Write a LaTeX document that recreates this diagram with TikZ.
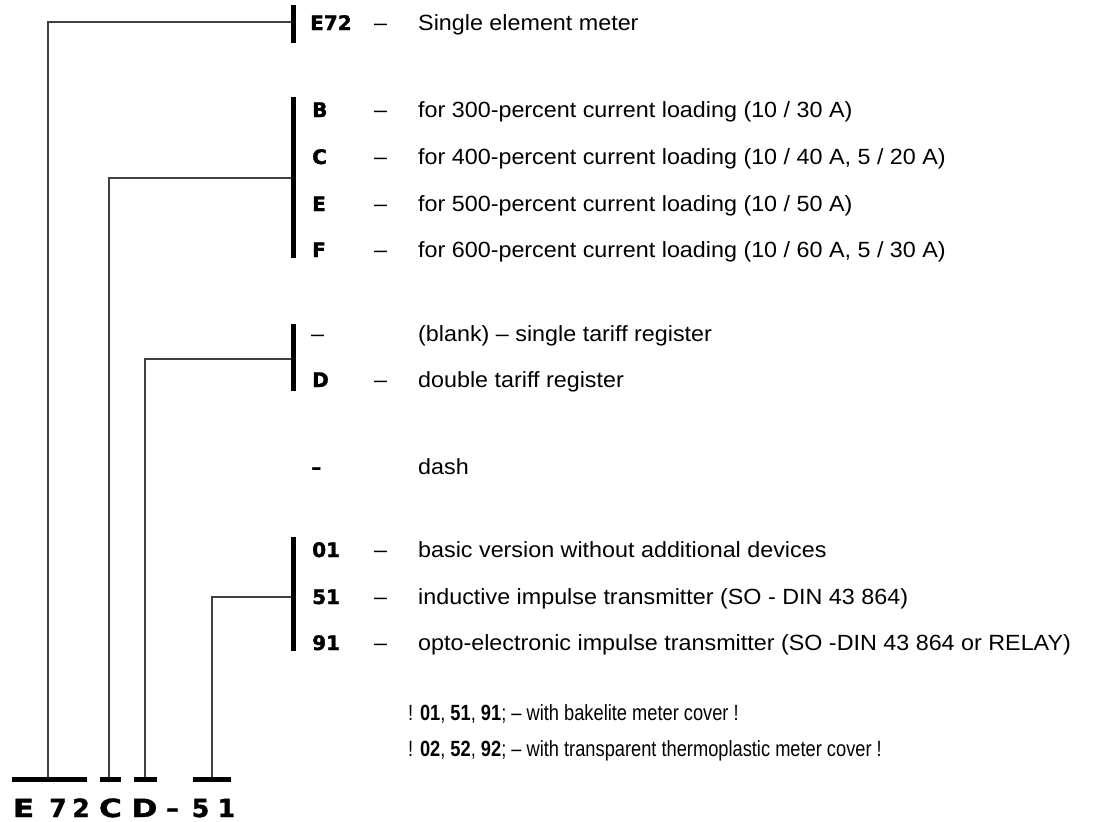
\documentclass[tikz,border=0pt]{standalone}
\usepackage{fontspec}
\setmainfont{Liberation Sans}[FakeStretch=1.06]
\newfontfamily\notefont{Liberation Sans}[FakeStretch=0.83]
\newfontfamily\blk{DejaVu Sans Bold}[FakeBold=1.5]
\newfontfamily\bigblk{DejaVu Sans Bold}[FakeBold=1.5,FakeStretch=1.25]
\newfontfamily\bigdig{DejaVu Sans Bold}[FakeBold=1.5]
\begin{document}
\begin{tikzpicture}[x=1pt,y=-1pt,
  bar/.style={line width=5pt},
  conn/.style={line width=1.1pt, draw=black!75},
  txt/.style={anchor=base west, inner sep=0, font=\fontsize{22}{26}\selectfont},
  note/.style={anchor=base west, inner sep=0, font=\notefont\fontsize{22}{26}\selectfont},
  code/.style={anchor=base west, inner sep=0, font=\blk\fontsize{20}{24}\selectfont},
  big/.style={anchor=base, inner sep=0, font=\bigblk\fontsize{25}{28}\selectfont},
  bigd/.style={anchor=base, inner sep=0, font=\bigdig\fontsize{25}{28}\selectfont}]
\useasboundingbox (0,0) rectangle (1101,822);
% group bars
\draw[bar] (293,5) -- (293,43);
\draw[bar] (293,97) -- (293,258);
\draw[bar] (293,324) -- (293,391);
\draw[bar] (293,537) -- (293,651);
\coordinate (g1) at (291,22);
\coordinate (g2) at (291,178);
\coordinate (g3) at (291,359);
\coordinate (g4) at (291,597);
% bottom bars
\draw[bar] (12,779) -- (87,779);
\draw[bar] (100,779) -- (121,779);
\draw[bar] (134,779) -- (157,779);
\draw[bar] (193,779) -- (231,779);
\coordinate (b1) at (48,777);
\coordinate (b2) at (109,777);
\coordinate (b3) at (145,777);
\coordinate (b4) at (212,777);
% connectors
\draw[conn] (b1) |- (g1);
\draw[conn] (b2) |- (g2);
\draw[conn] (b3) |- (g3);
\draw[conn] (b4) |- (g4);
% rows
\node[code] (cE72) at (310,30) {E72};
\node[txt] (dE72) at (374,30) {–};
\node[txt] (tE72) at (418,30) {Single element meter};

\node[code] (cB) at (312,117) {B};
\node[txt] (dB) at (374,117) {–};
\node[txt] (tB) at (418,117) {for 300-percent current loading (10 / 30 A)};
\node[code] (cC) at (312,164) {C};
\node[txt] (dC) at (374,164) {–};
\node[txt] (tC) at (418,164) {for 400-percent current loading (10 / 40 A, 5 / 20 A)};
\node[code] (cE) at (312,211) {E};
\node[txt] (dE) at (374,211) {–};
\node[txt] (tE) at (418,211) {for 500-percent current loading (10 / 50 A)};
\node[code] (cF) at (312,257) {F};
\node[txt] (dF) at (374,257) {–};
\node[txt] (tF) at (418,257) {for 600-percent current loading (10 / 60 A, 5 / 30 A)};

\node[txt] (cBl) at (311,341) {–};
\node[txt] (tBl) at (418,341) {(blank) – single tariff register};
\node[code] (cD) at (312,387) {D};
\node[txt] (dD) at (374,387) {–};
\node[txt] (tD) at (418,387) {double tariff register};

\node[code] (cDash) at (311,474) {–};
\node[txt] (tDash) at (418,474) {dash};

\node[code] (c01) at (312,557) {01};
\node[txt] (d01) at (374,557) {–};
\node[txt] (t01) at (418,557) {basic version without additional devices};
\node[code] (c51) at (312,604) {51};
\node[txt] (d51) at (374,604) {–};
\node[txt] (t51) at (418,604) {inductive impulse transmitter (SO - DIN 43 864)};
\node[code] (c91) at (312,650) {91};
\node[txt] (d91) at (374,650) {–};
\node[txt] (t91) at (418,650) {opto-electronic impulse transmitter (SO -DIN 43 864 or RELAY)};

\node[note] (n1) at (408,720) {! \textbf{01}, \textbf{51}, \textbf{91}; – with bakelite meter cover !};
\node[note] (n2) at (408,756) {! \textbf{02}, \textbf{52}, \textbf{92}; – with transparent thermoplastic meter cover !};

% bottom code
\node[big] (lE) at (23.5,817) {E};
\node[bigd] (l7) at (58,817) {7};
\node[bigd] (l2) at (81,817) {2};
\node[big] (lC) at (110.5,817) {C};
\node[big] (lD) at (144.5,817) {D};
\node[bigd] (lm) at (172.5,817) {–};
\node[bigd] (l5) at (200.5,817) {5};
\node[bigd] (l1) at (226.5,817) {1};
\end{tikzpicture}
\end{document}
